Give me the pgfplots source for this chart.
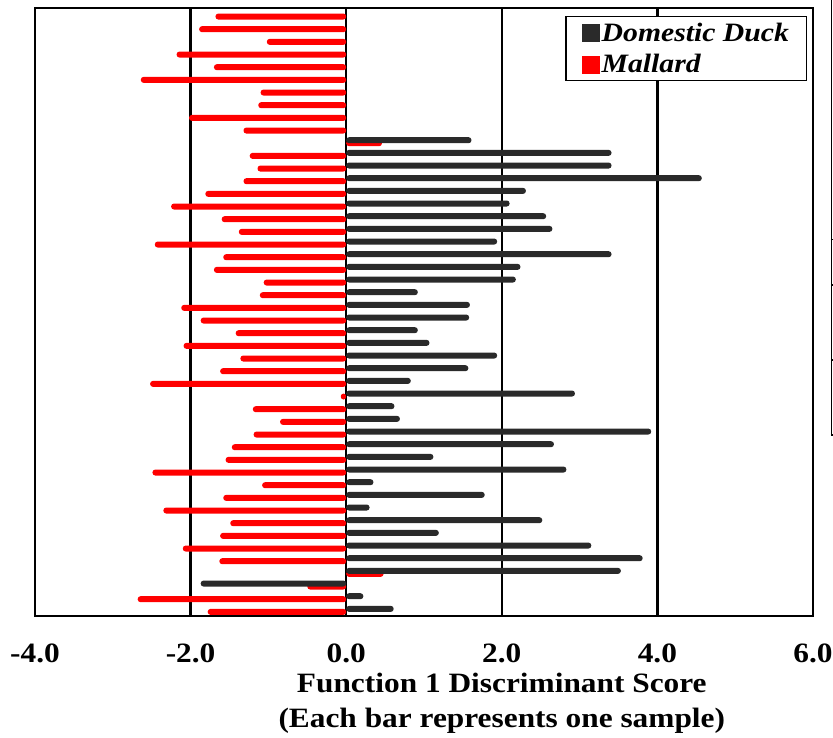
\documentclass[border=0pt]{standalone}
\usepackage{fontspec}
\setmainfont{Liberation Serif}[FakeStretch=1.12]
\usepackage{pgfplots}
\pgfplotsset{compat=1.18}
\usepackage{pgfplotstable}
\definecolor{dk}{HTML}{2A2A2A}
\definecolor{rd}{HTML}{FF0000}

% row = sample number from the top, value = Function 1 score
\pgfplotstableread{
row val
1 -1.68
2 -1.89
3 -1.02
4 -2.18
5 -1.70
6 -2.64
7 -1.10
8 -1.13
9 -2.02
10 -1.32
11 0.46
12 -1.24
13 -1.14
14 -1.32
15 -1.81
16 -2.25
17 -1.60
18 -1.38
19 -2.46
20 -1.58
21 -1.70
22 -1.06
23 -1.11
24 -2.12
25 -1.87
26 -1.42
27 -2.09
28 -1.36
29 -1.62
30 -2.52
31 -0.07
32 -1.20
33 -0.85
34 -1.19
35 -1.47
36 -1.55
37 -2.49
38 -1.08
39 -1.58
40 -2.35
41 -1.49
42 -1.62
43 -2.10
44 -1.63
45 0.48
46 -0.50
47 -2.68
48 -1.78
}\mallard

\pgfplotstableread{
row val
11 1.61
12 3.41
13 3.41
14 4.57
15 2.31
16 2.10
17 2.57
18 2.65
19 1.94
20 3.41
21 2.24
22 2.18
23 0.92
24 1.59
25 1.58
26 0.92
27 1.07
28 1.94
29 1.57
30 0.83
31 2.94
32 0.62
33 0.69
34 3.92
35 2.67
36 1.12
37 2.83
38 0.35
39 1.78
40 0.30
41 2.52
42 1.19
43 3.15
44 3.81
45 3.53
46 -1.87
47 0.22
48 0.61
}\domestic

\begin{document}
\begin{tikzpicture}
\begin{axis}[
  at={(0pt,0pt)}, anchor=south west,
  scale only axis, width=778pt, height=608pt,
  xmin=-4, xmax=6, ymin=0.5, ymax=48.5, y dir=reverse,
  xbar, bar width=6pt,
  xtick={-4,-2,0,2,4,6}, xticklabels={-4.0,-2.0,0.0,2.0,4.0,6.0},
  ytick=\empty,
  major tick length=0pt,
  xmajorgrids, grid style={black, line width=2.5pt},
  axis line style={line width=2.8pt},
  tick label style={font=\fontsize{28}{34}\selectfont\bfseries},
  xticklabel style={yshift=-24pt},
  xlabel={Function 1 Discriminant Score\\(Each bar represents one sample)},
  xlabel style={at={(rel axis cs:0.6,0)}, anchor=north, yshift=-57pt, inner sep=0pt, align=center, font=\fontsize{28}{35}\selectfont\bfseries},
  legend style={at={(1,1)}, anchor=north east, xshift=-6pt, yshift=-8pt,
    draw=black, line width=1.3pt, inner xsep=16pt, inner ysep=4.5pt,
    row sep=9pt, column sep=0pt,
    font=\fontsize{26.5}{32}\selectfont\bfseries\itshape,
    nodes={inner sep=1.5pt}},
  legend cell align=left,
]
\addlegendimage{legend image code/.code={\fill[dk] (0pt,-9pt) rectangle (17pt,8pt);}}
\addlegendentry{Domestic Duck}
\addlegendimage{legend image code/.code={\fill[rd] (0pt,-9pt) rectangle (17pt,8pt);}}
\addlegendentry{Mallard}
\addplot[forget plot, draw=none, fill=rd, bar shift=-2.2pt, rounded corners=2.8pt] table[x=val, y=row] {\mallard};
\addplot[forget plot, draw=none, fill=dk, bar shift=0.8pt, rounded corners=2.8pt] table[x=val, y=row] {\domestic};
\end{axis}
% edge of the neighbouring panel, cut off at the right of the reference
\draw[line width=1.4pt] (796.5pt,616pt) -- (796.5pt,181pt) -- (799pt,181pt);
\foreach \yy in {376.7,331,256} \draw[line width=1.2pt] (796.5pt,\yy pt) -- (799pt,\yy pt);
\pgfresetboundingbox
\path[use as bounding box] (-35pt,-122pt) rectangle (798pt,616pt);
\end{tikzpicture}
\end{document}
